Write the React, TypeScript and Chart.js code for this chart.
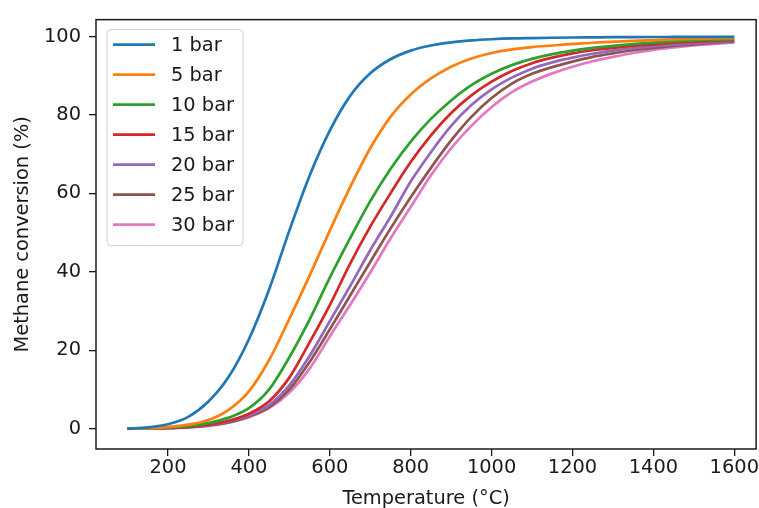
import React, { useEffect, useRef } from "react";
import { Chart, registerables } from "chart.js";

Chart.register(...registerables);

// Temperature grid (°C)
const temperatures = [
  100, 150, 200, 250, 300, 350, 400, 450, 500, 550, 600, 650, 700, 750, 800, 850,
  900, 950, 1000, 1050, 1100, 1150, 1200, 1250, 1300, 1350, 1400, 1450, 1500, 1550, 1600,
];

// Methane conversion (%) per pressure
const bar1 = [
  0, 0.3, 1.1, 3.0, 6.9, 13.2, 22.8, 35.5, 50.5, 64.5, 76.0, 84.8, 90.6, 94.2, 96.4, 97.7,
  98.5, 99.0, 99.3, 99.5, 99.6, 99.68, 99.74, 99.78, 99.82, 99.85, 99.87, 99.88, 99.89, 99.9, 99.9,
];
const bar5 = [
  0, 0.1, 0.4, 1.0, 2.2, 4.8, 9.5, 17.5, 28.0, 39.0, 50.5, 61.5, 71.5, 79.5, 85.2, 89.3,
  92.3, 94.4, 95.8, 96.7, 97.3, 97.7, 98.1, 98.4, 98.7, 98.9, 99.1, 99.25, 99.4, 99.5, 99.6,
];
const bar10 = [
  0, 0.05, 0.25, 0.6, 1.4, 2.8, 5.2, 10.0, 18.2, 27.8, 38.5, 48.5, 58.0, 66.2, 73.2, 79.0,
  83.7, 87.6, 90.5, 92.7, 94.3, 95.5, 96.4, 97.1, 97.6, 98.05, 98.45, 98.75, 99.0, 99.15, 99.3,
];
const bar15 = [
  0, 0.03, 0.15, 0.45, 1.0, 2.0, 3.8, 7.0, 13.0, 22.0, 31.5, 42.0, 51.5, 60.0, 68.0, 74.8,
  80.5, 85.0, 88.5, 91.2, 93.2, 94.6, 95.7, 96.5, 97.1, 97.6, 98.0, 98.4, 98.7, 98.9, 99.1,
];
const bar20 = [
  0, 0.02, 0.12, 0.4, 0.9, 1.8, 3.4, 6.0, 11.0, 18.5, 27.4, 36.3, 45.5, 54.0, 63.0, 70.5,
  77.2, 82.5, 86.5, 89.5, 91.8, 93.4, 94.6, 95.6, 96.4, 97.0, 97.5, 97.9, 98.3, 98.6, 98.9,
];
const bar25 = [
  0, 0.02, 0.1, 0.35, 0.8, 1.6, 3.1, 5.5, 10.0, 17.0, 25.3, 33.9, 42.5, 51.0, 59.0, 66.5,
  73.5, 79.5, 84.3, 88.0, 90.5, 92.2, 93.6, 94.8, 95.7, 96.5, 97.1, 97.6, 98.0, 98.4, 98.7,
];
const bar30 = [
  0, 0.02, 0.1, 0.3, 0.7, 1.5, 2.9, 5.2, 9.2, 15.3, 23.5, 31.5, 39.8, 48.5, 56.5, 64.6,
  71.5, 77.2, 82.0, 85.8, 88.5, 90.6, 92.3, 93.7, 94.8, 95.8, 96.6, 97.2, 97.7, 98.1, 98.5,
];

const seriesLabels = ["1 bar", "5 bar", "10 bar", "15 bar", "20 bar", "25 bar", "30 bar"];
const seriesValues = [bar1, bar5, bar10, bar15, bar20, bar25, bar30];
const seriesColors = ["#1f77b4", "#ff7f0e", "#2ca02c", "#d62728", "#9467bd", "#8c564b", "#e377c2"];

const xTicks = [200, 400, 600, 800, 1000, 1200, 1400, 1600];
const yTicks = [0, 20, 40, 60, 80, 100];

const xTitle = "Temperature (°C)";
const yTitle = "Methane conversion (%)";

const FONT_FAMILY = '"DejaVu Sans", sans-serif';
const FONT_SIZE = 19.4;
const TEXT_COLOR = "#1a1a1a";

const framePlugin = {
  id: "frame",
  afterDatasetsDraw(chart: any) {
    const { ctx, chartArea: a } = chart;
    ctx.save();
    ctx.strokeStyle = "#1a1a1a";
    ctx.lineWidth = 1.5;
    ctx.strokeRect(a.left, a.top, a.right - a.left, a.bottom - a.top);
    ctx.restore();
  },
};

const legendPlugin = {
  id: "boxLegend",
  afterDatasetsDraw(chart: any) {
    const { ctx, chartArea: a } = chart;
    const ds = chart.data.datasets;
    const bx = a.left + 11;
    const by = a.top + 10;
    const bw = 136;
    const bh = 216;
    const r = 4;
    ctx.save();
    ctx.beginPath();
    ctx.moveTo(bx + r, by);
    ctx.lineTo(bx + bw - r, by);
    ctx.arcTo(bx + bw, by, bx + bw, by + r, r);
    ctx.lineTo(bx + bw, by + bh - r);
    ctx.arcTo(bx + bw, by + bh, bx + bw - r, by + bh, r);
    ctx.lineTo(bx + r, by + bh);
    ctx.arcTo(bx, by + bh, bx, by + bh - r, r);
    ctx.lineTo(bx, by + r);
    ctx.arcTo(bx, by, bx + r, by, r);
    ctx.closePath();
    ctx.fillStyle = "rgba(255,255,255,0.8)";
    ctx.fill();
    ctx.strokeStyle = "#d0d0d0";
    ctx.lineWidth = 1;
    ctx.stroke();

    ctx.font = `${FONT_SIZE}px ${FONT_FAMILY}`;
    ctx.textBaseline = "middle";
    ctx.textAlign = "left";
    ds.forEach((d: any, i: number) => {
      const y = by + 15 + i * 30;
      ctx.beginPath();
      ctx.moveTo(bx + 6, y);
      ctx.lineTo(bx + 48, y);
      ctx.strokeStyle = d.borderColor;
      ctx.lineWidth = 2.7;
      ctx.stroke();
      ctx.fillStyle = TEXT_COLOR;
      ctx.fillText(d.label, bx + 64, y + 1);
    });
    ctx.restore();
  },
};

export default function App() {
  const canvasRef = useRef<HTMLCanvasElement | null>(null);

  useEffect(() => {
    const canvas = canvasRef.current;
    if (!canvas) return;
    const datasets = seriesLabels.map((label, i) => ({
      label,
      data: temperatures.map((t, j) => ({ x: t, y: seriesValues[i][j] })),
      borderColor: seriesColors[i],
      backgroundColor: seriesColors[i],
      borderWidth: 2.7,
      pointRadius: 0,
      pointHoverRadius: 0,
      fill: false,
      cubicInterpolationMode: "monotone" as const,
    }));

    const chart = new Chart(canvas, {
      type: "line",
      data: { datasets },
      plugins: [framePlugin, legendPlugin],
      options: {
        animation: false,
        responsive: false,
        devicePixelRatio: 1,
        layout: { padding: { top: 14, right: 1, left: 0, bottom: 0 } },
        plugins: {
          legend: { display: false },
          tooltip: { enabled: false },
        },
        scales: {
          x: {
            type: "linear",
            min: 22,
            max: 1654,
            afterBuildTicks: (scale: any) => {
              scale.ticks = xTicks.map((v) => ({ value: v }));
            },
            afterFit: (scale: any) => {
              scale.height = 59;
            },
            grid: {
              display: true,
              drawOnChartArea: false,
              drawTicks: true,
              tickLength: 7,
              color: "#1a1a1a",
              lineWidth: 1.3,
            },
            border: { display: false },
            ticks: {
              color: TEXT_COLOR,
              font: { family: FONT_FAMILY, size: FONT_SIZE },
              padding: 0,
              maxRotation: 0,
              autoSkip: false,
              callback: (v: any) => String(v),
            },
            title: {
              display: true,
              text: xTitle,
              color: TEXT_COLOR,
              font: { family: FONT_FAMILY, size: FONT_SIZE },
              padding: { top: 0, bottom: -3 },
            },
          },
          y: {
            type: "linear",
            min: -5.2,
            max: 104.3,
            afterBuildTicks: (scale: any) => {
              scale.ticks = yTicks.map((v) => ({ value: v }));
            },
            afterFit: (scale: any) => {
              scale.width = 96;
            },
            grid: {
              display: true,
              drawOnChartArea: false,
              drawTicks: true,
              tickLength: 7,
              color: "#1a1a1a",
              lineWidth: 1.3,
            },
            border: { display: false },
            ticks: {
              color: TEXT_COLOR,
              font: { family: FONT_FAMILY, size: FONT_SIZE },
              padding: 8,
              autoSkip: false,
              callback: (v: any) => String(v),
            },
            title: {
              display: true,
              text: yTitle,
              color: TEXT_COLOR,
              font: { family: FONT_FAMILY, size: FONT_SIZE },
              padding: { top: 11, bottom: 0 },
            },
          },
        },
      },
    });
    return () => chart.destroy();
  }, []);

  return (
    <div style={{ position: "fixed", left: 0, top: 0, width: 759, height: 508, background: "#fff" }}>
      <canvas ref={canvasRef} width={759} height={508} style={{ width: 759, height: 508, display: "block" }} />
    </div>
  );
}
